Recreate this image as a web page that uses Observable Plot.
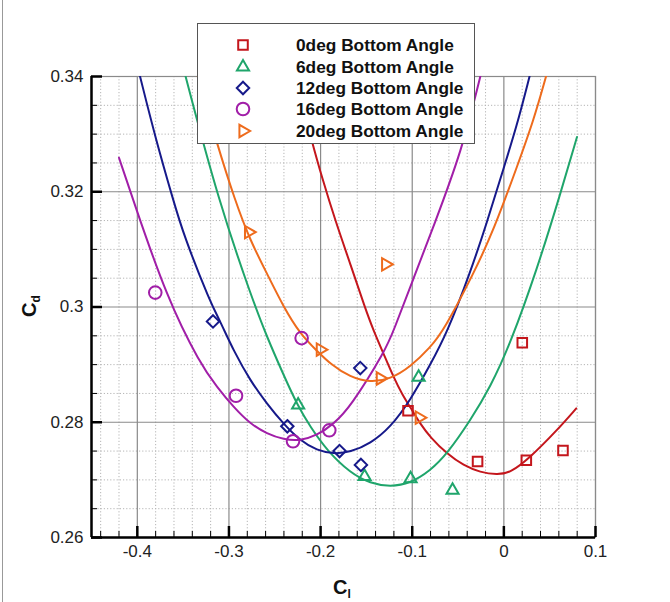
<!DOCTYPE html>
<html><head><meta charset="utf-8">
<script src="https://cdn.jsdelivr.net/npm/d3@7"></script>
<script src="https://cdn.jsdelivr.net/npm/@observablehq/plot@0.6"></script>
<style>
body{margin:0;background:#fff;}
#wrap{position:relative;width:670px;height:602px;font-family:"Liberation Sans",Arial,sans-serif;overflow:hidden;}
#edge{position:absolute;left:2px;top:0;width:1px;height:602px;background:#999;}
#legend{position:absolute;left:197px;top:23px;width:278px;height:121px;border:1px solid #555;background:#fff;box-sizing:border-box;}
.row{position:absolute;left:0;width:100%;height:20px;}
.row svg{position:absolute;left:34px;top:0;}
.row span{position:absolute;left:98px;top:0;font-weight:bold;font-size:17.3px;line-height:20px;color:#111;white-space:nowrap;}
</style></head><body><div id="wrap"><div id="edge"></div></div>
<script>
// ---- axis ticks ----
const xMajor = [-0.4, -0.3, -0.2, -0.1, 0, 0.1];
const xMajorLabels = ["-0.4", "-0.3", "-0.2", "-0.1", "0", "0.1"];
const yMajor = [0.26, 0.28, 0.30, 0.32, 0.34];
const yMajorLabels = ["0.26", "0.28", "0.3", "0.32", "0.34"];
const xMinor = [-0.44, -0.42, -0.38, -0.36, -0.34, -0.32, -0.28, -0.26, -0.24, -0.22, -0.18, -0.16, -0.14, -0.12, -0.08, -0.06, -0.04, -0.02, 0.02, 0.04, 0.06, 0.08];
const yMinor = [0.265, 0.27, 0.275, 0.285, 0.29, 0.295, 0.305, 0.31, 0.315, 0.325, 0.33, 0.335];

// ---- series ----
const seriesNames = ["0deg Bottom Angle", "6deg Bottom Angle", "12deg Bottom Angle", "16deg Bottom Angle", "20deg Bottom Angle"];
const seriesColors = ["#c4161c", "#1fa56b", "#16198a", "#a11ea8", "#ee6b1c"];

// measured points
const pts0_cl = [-0.1046, -0.0287, 0.0245, 0.0645, 0.0201];
const pts0_cd = [0.2820, 0.2732, 0.2734, 0.2751, 0.2938];
const pts6_cl = [-0.2245, -0.093, -0.152, -0.1018, -0.056];
const pts6_cd = [0.2830, 0.2878, 0.2706, 0.2702, 0.2682];
const pts12_cl = [-0.3174, -0.2363, -0.1793, -0.156, -0.1567];
const pts12_cd = [0.2975, 0.2793, 0.2750, 0.2726, 0.2894];
const pts16_cl = [-0.3804, -0.2923, -0.2301, -0.2207, -0.1905];
const pts16_cd = [0.3025, 0.2846, 0.2767, 0.2946, 0.2786];
const pts20_cl = [-0.2786, -0.2003, -0.1348, -0.129, -0.0923];
const pts20_cd = [0.3130, 0.2926, 0.2876, 0.3074, 0.2808];

// fitted curves
const fit0_cl = [-0.228, -0.2086, -0.1985, -0.184, -0.1676, -0.1512, -0.1422, -0.1313, -0.1203, -0.1112, -0.1021, -0.0912, -0.0803, -0.062, -0.044, -0.0257, -0.0075, 0.007, 0.0288, 0.058, 0.079];
const fit0_cd = [0.3400, 0.3282, 0.3225, 0.3150, 0.3075, 0.2997, 0.2959, 0.2919, 0.2878, 0.2849, 0.2826, 0.2797, 0.2774, 0.2745, 0.2725, 0.2713, 0.2709, 0.2712, 0.2739, 0.2786, 0.2824];
const fit6_cl = [-0.3473, -0.3116, -0.274, -0.2585, -0.2404, -0.2251, -0.2112, -0.193, -0.1676, -0.1457, -0.1239, -0.1021, -0.0803, -0.062, -0.0366, -0.0148, 0.007, 0.0361, 0.0616, 0.0798];
const fit6_cd = [0.3400, 0.3185, 0.3011, 0.2948, 0.2882, 0.2829, 0.2792, 0.2751, 0.2712, 0.2694, 0.2688, 0.2694, 0.2716, 0.2745, 0.2803, 0.2861, 0.2936, 0.3065, 0.3196, 0.3295];
const fit12_cl = [-0.397, -0.380, -0.3607, -0.3495, -0.3204, -0.3095, -0.2949, -0.2767, -0.2585, -0.2404, -0.2222, -0.204, -0.1858, -0.1676, -0.1457, -0.1239, -0.1021, -0.0803, -0.062, -0.0366, -0.0184, -0.002, 0.0143, 0.028];
const fit12_cd = [0.3400, 0.3292, 0.3185, 0.3125, 0.3008, 0.2975, 0.2924, 0.2872, 0.2832, 0.2797, 0.2768, 0.2751, 0.2745, 0.2748, 0.2763, 0.2791, 0.2838, 0.2900, 0.2955, 0.3060, 0.3147, 0.3232, 0.3315, 0.3400];
const fit16_cl = [-0.420, -0.4044, -0.3676, -0.3313, -0.313, -0.2949, -0.2767, -0.2585, -0.2404, -0.2222, -0.204, -0.1858, -0.1676, -0.1294, -0.1203, -0.0985, -0.0767, -0.0457, -0.0257];
const fit16_cd = [0.3259, 0.3185, 0.3015, 0.2901, 0.2861, 0.2826, 0.2797, 0.2780, 0.2770, 0.2768, 0.2777, 0.2797, 0.2826, 0.2924, 0.2959, 0.3050, 0.3140, 0.3272, 0.3400];
const fit20_cl = [-0.334, -0.313, -0.2934, -0.2767, -0.2585, -0.2404, -0.2222, -0.204, -0.1894, -0.1676, -0.1457, -0.1239, -0.1021, -0.0803, -0.0658, -0.033, -0.0112, 0.0143, 0.0325, 0.046];
const fit20_cd = [0.3400, 0.3283, 0.3185, 0.3115, 0.3058, 0.3000, 0.2953, 0.2924, 0.2901, 0.2878, 0.2869, 0.2875, 0.2896, 0.2930, 0.2959, 0.3058, 0.3133, 0.3243, 0.3324, 0.3400];

const zip = (a, b) => a.map((v, i) => ({cl: v, cd: b[i]}));
const ptsAll = [[pts0_cl, pts0_cd], [pts6_cl, pts6_cd], [pts12_cl, pts12_cd], [pts16_cl, pts16_cd], [pts20_cl, pts20_cd]].map(([a, b]) => zip(a, b));
const fitAll = [[fit0_cl, fit0_cd], [fit6_cl, fit6_cd], [fit12_cl, fit12_cd], [fit16_cl, fit16_cd], [fit20_cl, fit20_cd]].map(([a, b]) => zip(a, b));

const symbolSpecs = [
  {symbol: "square", r: 5.4, rotate: 0},
  {symbol: "triangle", r: 4.5, rotate: 0},
  {symbol: "diamond2", r: 5.6, rotate: 0},
  {symbol: "circle", r: 6.3, rotate: 0},
  {symbol: "triangle", r: 4.6, rotate: 90}
];

const W = 670, H = 602, ML = 91, MR = 75, MT = 76, MB = 65;
const FW = W - ML - MR, FH = H - MT - MB;

const marks = [
  Plot.gridX(xMinor, {stroke: "#b5b5b5", strokeOpacity: 1, strokeDasharray: "1.2,2"}),
  Plot.gridY(yMinor, {stroke: "#b5b5b5", strokeOpacity: 1, strokeDasharray: "1.2,2"}),
  Plot.gridX(xMajor, {stroke: "#8a8a8a", strokeOpacity: 1, strokeWidth: 1.2}),
  Plot.gridY(yMajor, {stroke: "#8a8a8a", strokeOpacity: 1, strokeWidth: 1.2}),
  Plot.frame({stroke: "#8a8a8a", strokeWidth: 1.2})
];
fitAll.forEach((d, i) => marks.push(Plot.line(d, {x: "cl", y: "cd", stroke: seriesColors[i], strokeWidth: 2, curve: "basis", clip: true})));
ptsAll.forEach((d, i) => marks.push(Plot.dot(d, {x: "cl", y: "cd", symbol: symbolSpecs[i].symbol, r: symbolSpecs[i].r, rotate: symbolSpecs[i].rotate, stroke: seriesColors[i], strokeWidth: 2, fill: "none"})));
marks.push(
  Plot.tickX(xMinor, {x: d => d, stroke: "#000", strokeWidth: 1, insetTop: FH - 6}),
  Plot.tickY(yMinor, {y: d => d, stroke: "#000", strokeWidth: 1, insetRight: FW - 6}),
  Plot.tickX(xMajor, {x: d => d, stroke: "#000", strokeWidth: 2.5, insetTop: FH - 11}),
  Plot.tickY(yMajor, {y: d => d, stroke: "#000", strokeWidth: 2.5, insetRight: FW - 11}),
  Plot.ruleY([0.26], {stroke: "#000", strokeWidth: 2.5}),
  Plot.ruleX([-0.45], {stroke: "#000", strokeWidth: 2.5}),
  Plot.axisX({ticks: xMajor, tickSize: 0, tickPadding: 7, tickFormat: d => xMajorLabels[xMajor.indexOf(d)], fontSize: 17, label: null}),
  Plot.axisY({ticks: yMajor, tickSize: 0, tickPadding: 8, tickFormat: d => yMajorLabels[yMajor.indexOf(d)], fontSize: 17, label: null})
);

const chart = Plot.plot({
  width: W, height: H,
  marginLeft: ML, marginRight: MR, marginTop: MT, marginBottom: MB,
  x: {domain: [-0.45, 0.1]},
  y: {domain: [0.26, 0.34]},
  style: {fontFamily: "'Liberation Sans', Arial, sans-serif", color: "#222", background: "#fff"},
  marks
});
document.getElementById("wrap").appendChild(chart);

// axis titles with subscripts
const svg = d3.select(chart);
const xt = svg.append("text").attr("x", 342).attr("y", 594).attr("text-anchor", "middle")
  .attr("font-family", "'Liberation Sans', Arial, sans-serif").attr("font-weight", "bold").attr("fill", "#111");
xt.append("tspan").attr("font-size", 20).text("C");
xt.append("tspan").attr("font-size", 12).attr("dy", 4).text("l");
const yt = svg.append("text").attr("transform", "translate(36,306) rotate(-90)").attr("text-anchor", "middle")
  .attr("font-family", "'Liberation Sans', Arial, sans-serif").attr("font-weight", "bold").attr("fill", "#111");
yt.append("tspan").attr("font-size", 20).text("C");
yt.append("tspan").attr("font-size", 12).attr("dy", 4).text("d");

// legend
const legend = document.createElement("div");
legend.id = "legend";
const rowY = [11, 33, 54, 75, 97];
const symMap = {square: d3.symbolSquare, triangle: d3.symbolTriangle, diamond2: d3.symbolDiamond2, circle: d3.symbolCircle};
seriesNames.forEach((name, i) => {
  const row = document.createElement("div");
  row.className = "row";
  row.style.top = rowY[i] + "px";
  const s = symbolSpecs[i];
  const path = d3.symbol(symMap[s.symbol], Math.PI * s.r * s.r)();
  row.innerHTML = `<svg width="22" height="20"><path d="${path}" transform="translate(11,10) rotate(${s.rotate})" fill="none" stroke="${seriesColors[i]}" stroke-width="2"/></svg><span>${name}</span>`;
  legend.appendChild(row);
});
document.getElementById("wrap").appendChild(legend);
</script>
</body></html>
